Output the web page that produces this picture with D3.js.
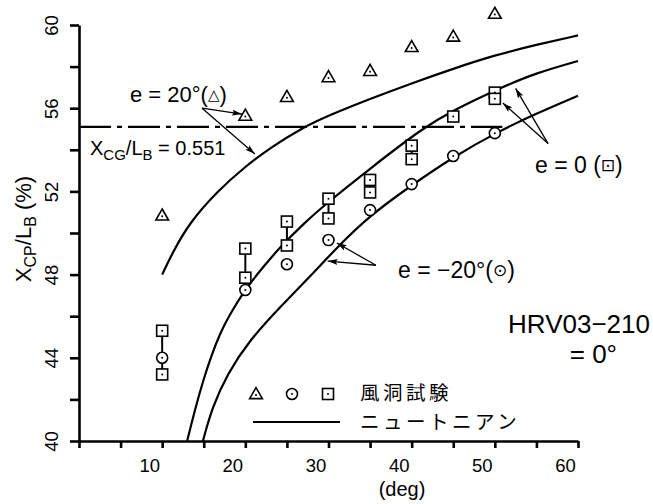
<!DOCTYPE html>
<html>
<head>
<meta charset="utf-8">
<script src="https://cdn.jsdelivr.net/npm/d3@7"></script>
<style>
body { margin: 0; background: #fff; }
text { font-family: "Liberation Sans", "DejaVu Sans", "Noto Sans CJK JP", sans-serif; fill: #000; }
text.jp { font-family: "Noto Sans CJK JP", sans-serif; letter-spacing: 3.5px; }
</style>
</head>
<body>
<div id="graph"></div>
<script>
// wind tunnel points (deg, Xcp/LB %)
var angles = [10, 20, 25, 30, 35, 40, 45, 50];
var triE20 = [50.8, 55.6, 56.5, 57.45, 57.75, 58.9, 59.4, 60.5];
var circEm20 = [44.0, 47.26, 48.5, 49.66, 51.1, 52.35, 53.7, 54.8];
var sqE0Hi = [45.3, 49.25, 50.55, 51.65, 52.55, 54.2, 55.6, 56.75];
var sqE0Lo = [43.2, 47.85, 49.4, 50.7, 51.95, 53.55, null, 56.45];

// newtonian curves
var n20Deg = [10, 11.3, 13.3, 16.6, 20, 23, 26.8, 30, 35, 40, 45, 50, 55, 60];
var n20Val = [48.0, 49.1, 50.5, 52.0, 53.2, 54.1, 55.05, 55.65, 56.45, 57.2, 57.9, 58.55, 59.05, 59.5];
var n0Deg = [13.0, 14.0, 15.0, 16.0, 17.0, 18.0, 20.0, 22.0, 24.2, 27, 29.8, 35, 41.35, 45, 50.6, 55, 60];
var n0Val = [40, 41.6, 43.0, 44.2, 45.2, 46.0, 47.3, 48.3, 49.33, 50.45, 51.44, 53.1, 55.05, 55.9, 56.97, 57.7, 58.27];
var nm20Deg = [14.9, 16.0, 17.8, 20.5, 24.2, 28.0, 31.0, 35, 40, 45, 50, 55, 60];
var nm20Val = [40, 41.6, 43.2, 44.85, 46.45, 48.0, 49.3, 50.85, 52.3, 53.65, 54.8, 55.75, 56.6];

var xcg = 55.1;
var xcgEnd = 50.9;

var xTicks = [0, 5, 10, 15, 20, 25, 30, 35, 40, 45, 50, 55, 60];
var xLabels = [10, 20, 30, 40, 50, 60];
var yTicks = [40, 42, 44, 46, 48, 50, 52, 54, 56, 58, 60];
var yLabels = [40, 44, 48, 52, 56, 60];

// annotation arrows, data units
var arrowFrom = [[14.8, 56.0], [14.8, 56.0], [56.4, 54.3], [56.4, 54.3], [35.7, 48.45], [35.7, 48.45]];
var arrowTo = [[19.6, 55.72], [21.15, 53.8], [50.96, 56.25], [52.5, 56.95], [31.0, 49.52], [29.9, 48.65]];

var svg = d3.select("#graph")
    .append("svg")
    .attr("width", 653)
    .attr("height", 504);

var x = d3.scaleLinear().domain([0, 60]).range([79, 578]);
var y = d3.scaleLinear().domain([40, 60]).range([441, 25]);

svg.append("defs").append("marker")
    .attr("id", "arr")
    .attr("viewBox", "0 0 10 6")
    .attr("refX", 10).attr("refY", 3)
    .attr("markerWidth", 10).attr("markerHeight", 6)
    .attr("markerUnits", "userSpaceOnUse")
    .attr("orient", "auto")
    .append("path").attr("d", "M0,0L10,3L0,6L2,3z").attr("fill", "#000");

// axes
var yAxis = svg.append("g")
    .attr("transform", "translate(79,0)")
    .call(d3.axisLeft(y).tickValues(yTicks).tickSize(9).tickSizeOuter(0)
      .tickFormat(function (d) { return yLabels.indexOf(d) >= 0 ? d : ""; }));
yAxis.selectAll("text")
    .attr("x", 0).attr("y", -21).attr("dy", 0)
    .attr("text-anchor", "middle")
    .attr("transform", "rotate(-90)");

var xAxis = svg.append("g")
    .attr("transform", "translate(0,441)")
    .call(d3.axisBottom(x).tickValues(xTicks).tickSize(7).tickSizeOuter(0)
      .tickFormat(function (d) { return xLabels.indexOf(d) >= 0 ? d : ""; }));
xAxis.selectAll("text").attr("dx", -13).attr("y", 31).attr("dy", 0);

svg.selectAll(".domain, .tick line")
    .attr("stroke", "#000")
    .attr("stroke-width", 2.6);
svg.selectAll(".tick text")
    .attr("font-size", 18.5)
    .attr("font-family", "\"Liberation Sans\", sans-serif");

// curves
var line = d3.line()
    .x(function (d) { return x(d[0]); })
    .y(function (d) { return y(d[1]); })
    .curve(d3.curveBasis);

[[n20Deg, n20Val], [n0Deg, n0Val], [nm20Deg, nm20Val]].forEach(function (c) {
  svg.append("path")
    .datum(d3.zip(c[0], c[1]))
    .attr("d", line)
    .attr("fill", "none")
    .attr("stroke", "#000")
    .attr("stroke-width", 2.2);
});

// Xcg line
svg.append("line")
    .attr("x1", x(0)).attr("x2", x(xcgEnd))
    .attr("y1", y(xcg)).attr("y2", y(xcg))
    .attr("stroke", "#000")
    .attr("stroke-width", 2.2)
    .attr("stroke-dasharray", "32,6,5,6");

// connectors between paired points
svg.selectAll("line.pair")
    .data(angles.map(function (a, i) {
      return [a, sqE0Hi[i], sqE0Lo[i]];
    }).filter(function (d) { return d[2] != null; }))
    .enter()
    .append("line")
    .attr("class", "pair")
    .attr("x1", function (d) { return x(d[0]); })
    .attr("x2", function (d) { return x(d[0]); })
    .attr("y1", function (d) { return y(d[1]); })
    .attr("y2", function (d) { return y(d[2]); })
    .attr("stroke", "#000")
    .attr("stroke-width", 2);

function dot(g) {
  g.append("circle").attr("r", 1).attr("fill", "#000");
}

var sqPts = [];
angles.forEach(function (a, i) {
  sqPts.push([a, sqE0Hi[i]]);
  if (sqE0Lo[i] != null) sqPts.push([a, sqE0Lo[i]]);
});

var sq = svg.selectAll("g.sq")
    .data(sqPts)
    .enter()
    .append("g")
    .attr("transform", function (d) { return "translate(" + x(d[0]) + "," + y(d[1]) + ")"; });
sq.append("rect")
    .attr("x", -5.5).attr("y", -5.5).attr("width", 11).attr("height", 11)
    .attr("fill", "#fff").attr("stroke", "#000").attr("stroke-width", 1.6);
dot(sq);

var ci = svg.selectAll("g.ci")
    .data(d3.zip(angles, circEm20))
    .enter()
    .append("g")
    .attr("transform", function (d) { return "translate(" + x(d[0]) + "," + y(d[1]) + ")"; });
ci.append("circle")
    .attr("r", 5.5)
    .attr("fill", "#fff").attr("stroke", "#000").attr("stroke-width", 1.6);
dot(ci);

var tri = d3.symbol().type(d3.symbolTriangle).size(70);
var tr = svg.selectAll("g.tr")
    .data(d3.zip(angles, triE20))
    .enter()
    .append("g")
    .attr("transform", function (d) { return "translate(" + x(d[0]) + "," + y(d[1]) + ")"; });
tr.append("path")
    .attr("d", tri)
    .attr("fill", "#fff").attr("stroke", "#000").attr("stroke-width", 1.6);
dot(tr);

// arrows
svg.selectAll("line.arrow")
    .data(d3.zip(arrowFrom, arrowTo))
    .enter()
    .append("line")
    .attr("x1", function (d) { return x(d[0][0]); })
    .attr("y1", function (d) { return y(d[0][1]); })
    .attr("x2", function (d) { return x(d[1][0]); })
    .attr("y2", function (d) { return y(d[1][1]); })
    .attr("stroke", "#000")
    .attr("stroke-width", 1.3)
    .attr("marker-end", "url(#arr)");

// labels
function label(px, py, s, size, anchor) {
  return svg.append("text")
    .attr("x", px).attr("y", py)
    .attr("font-size", size)
    .attr("text-anchor", anchor || "start")
    .text(s);
}

var t20 = label(130, 102, "e = 20°(", 22);
t20.append("tspan").attr("font-size", 15).attr("dy", -2).text("△");
t20.append("tspan").attr("dy", 2).text(")");
var t0 = label(535, 173, "e = 0 (", 23);
t0.append("tspan").attr("font-size", 17).attr("dy", -2).text("⊡");
t0.append("tspan").attr("dy", 2).text(")");
var tm20 = label(398, 278, "e = −20°(", 23);
tm20.append("tspan").attr("font-size", 17).attr("dy", -2).text("⊙");
tm20.append("tspan").attr("dy", 2).text(")");
label(650, 333, "HRV03−210", 26, "end");
label(617, 363, "= 0°", 26, "end");
label(360, 400, "風洞試験", 19.5).attr("class", "jp");
label(360, 428.5, "ニュートニアン", 19.5).attr("class", "jp");
label(402, 496, "(deg)", 20, "middle");

var cg = svg.append("text").attr("x", 90).attr("y", 155).attr("font-size", 20);
cg.append("tspan").text("X");
cg.append("tspan").attr("font-size", 15).attr("dy", 5).text("CG");
cg.append("tspan").attr("dy", -5).text("/L");
cg.append("tspan").attr("font-size", 15).attr("dy", 5).text("B");
cg.append("tspan").attr("dy", -5).text(" = 0.551");

var yl = svg.append("text")
    .attr("transform", "translate(31,229) rotate(-90)")
    .attr("text-anchor", "middle")
    .attr("font-size", 22);
yl.append("tspan").text("X");
yl.append("tspan").attr("font-size", 16).attr("dy", 5).text("CP");
yl.append("tspan").attr("dy", -5).text("/L");
yl.append("tspan").attr("font-size", 16).attr("dy", 5).text("B");
yl.append("tspan").attr("dy", -5).text(" (%)");

// legend
var lg = svg.append("g");
lg.append("path").attr("transform", "translate(256,395)").attr("d", tri)
    .attr("fill", "#fff").attr("stroke", "#000").attr("stroke-width", 1.6);
lg.append("circle").attr("cx", 292).attr("cy", 394).attr("r", 5.5)
    .attr("fill", "#fff").attr("stroke", "#000").attr("stroke-width", 1.6);
lg.append("rect").attr("x", 322.5).attr("y", 388.5).attr("width", 11).attr("height", 11)
    .attr("fill", "#fff").attr("stroke", "#000").attr("stroke-width", 1.6);
[[256, 395], [292, 394], [328, 394]].forEach(function (p) {
  lg.append("circle").attr("cx", p[0]).attr("cy", p[1]).attr("r", 1).attr("fill", "#000");
});
lg.append("line").attr("x1", 253).attr("x2", 340).attr("y1", 422).attr("y2", 422)
    .attr("stroke", "#000").attr("stroke-width", 2.2);
</script>
</body>
</html>
